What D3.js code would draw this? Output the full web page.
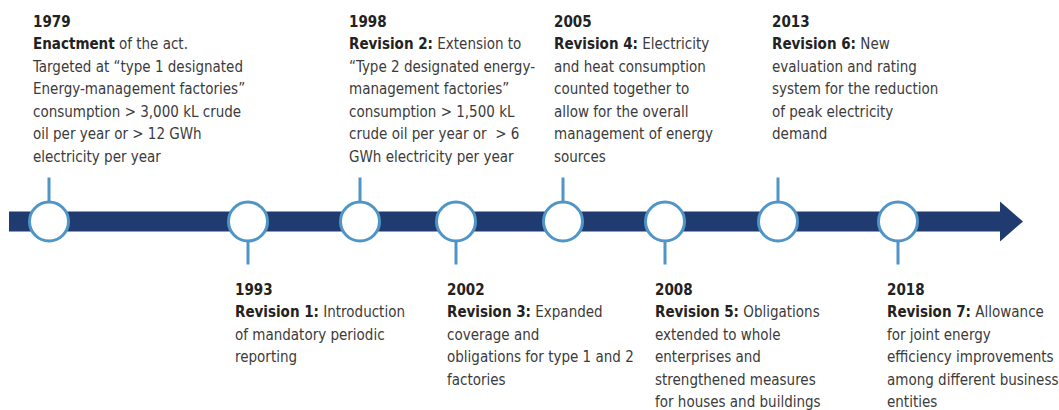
<!DOCTYPE html>
<html>
<head>
<meta charset="utf-8">
<script src="https://cdn.jsdelivr.net/npm/d3@7"></script>
<style>
  body { margin: 0; background: #fff; }
  text { font-family: "Liberation Sans Narrow", "Arial Narrow", "DejaVu Sans Condensed", sans-serif; white-space: pre; }
</style>
</head>
<body>
<div class="timeline"></div>
<script>
// milestones of the act
var years = ["1979", "1993", "1998", "2002", "2005", "2008", "2013", "2018"];
var heads = ["Enactment", "Revision 1:", "Revision 2:", "Revision 3:", "Revision 4:", "Revision 5:", "Revision 6:", "Revision 7:"];
var firstLines = [" of the act.", " Introduction", " Extension to", " Expanded", " Electricity", " Obligations", " New", " Allowance"];
var moreLines = [
  ["Targeted at \u201ctype 1 designated", "Energy-management factories\u201d", "consumption > 3,000 kL crude", "oil per year or > 12 GWh", "electricity per year"],
  ["of mandatory periodic", "reporting"],
  ["\u201cType 2 designated energy-", "management factories\u201d", "consumption > 1,500 kL", "crude oil per year or  > 6", "GWh electricity per year"],
  ["coverage and", "obligations for type 1 and 2", "factories"],
  ["and heat consumption", "counted together to", "allow for the overall", "management of energy", "sources"],
  ["extended to whole", "enterprises and", "strengthened measures", "for houses and buildings"],
  ["evaluation and rating", "system for the reduction", "of peak electricity", "demand"],
  ["for joint energy", "efficiency improvements", "among different business", "entities"]
];
var sides = ["top", "bottom", "top", "bottom", "top", "bottom", "top", "bottom"];

// layout (node slots along the arrow and label offsets)
var slots = [49, 248, 360, 456, 563, 665, 778, 898];
var labelShift = [-16, -13, -11, -9, -9, -10, -6, -11];

var width = 1059, height = 410;
var svg = d3.select(".timeline").append("svg")
    .attr("width", width)
    .attr("height", height);

var x = d3.scaleLinear().domain([0, width]).range([0, width]);
var axisY = 221.5;
var lineH = 22.45;

// the arrow
var barTop = axisY - 10, barBot = axisY + 10;
svg.append("path")
    .attr("d", "M" + x(9) + "," + barTop + "L" + x(1000) + "," + barTop
      + "L" + x(1000) + "," + (axisY - 20) + "L" + x(1023) + "," + axisY
      + "L" + x(1000) + "," + (axisY + 20) + "L" + x(1000) + "," + barBot
      + "L" + x(9) + "," + barBot + "Z")
    .attr("fill", "#203b70");

var node = svg.selectAll(".node")
  .data(years)
  .enter().append("g")
    .attr("class", "node")
    .attr("transform", function(d, i) { return "translate(" + x(slots[i]) + "," + axisY + ")"; });

node.append("line")
    .attr("x1", 0).attr("x2", 0)
    .attr("y1", function(d, i) { return sides[i] == "top" ? -20 : 20; })
    .attr("y2", function(d, i) { return sides[i] == "top" ? -44 : 43; })
    .attr("stroke", "#4f95c8")
    .attr("stroke-width", 3);

node.append("circle")
    .attr("r", 19.5)
    .attr("fill", "#fff")
    .attr("stroke", "#4f95c8")
    .attr("stroke-width", 3);

var label = svg.selectAll(".label")
  .data(years)
  .enter().append("text")
    .attr("class", "label")
    .attr("font-size", 15)
    .attr("fill", "#3b3b3b")
    .attr("transform", function(d, i) {
      var y0 = sides[i] == "top" ? 27 : 295;
      return "translate(" + x(slots[i] + labelShift[i]) + "," + y0 + ")";
    });

label.each(function(d, i) {
  var t = d3.select(this);
  t.append("tspan").attr("x", 0).attr("y", 0)
    .attr("font-weight", "bold").attr("fill", "#222").text(d);
  t.append("tspan").attr("x", 0).attr("y", lineH)
    .attr("font-weight", "bold").attr("fill", "#222").text(heads[i]);
  t.append("tspan").text(firstLines[i]);
  moreLines[i].forEach(function(s, k) {
    t.append("tspan").attr("x", 0).attr("y", lineH * (k + 2)).text(s);
  });
});
</script>
</body>
</html>
